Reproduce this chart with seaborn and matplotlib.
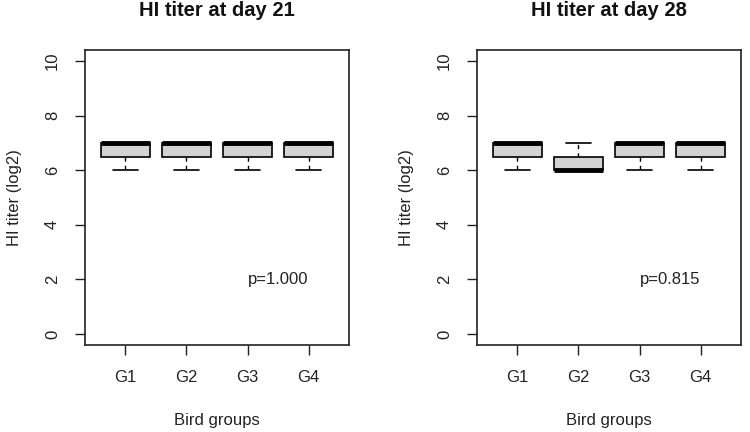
import matplotlib
matplotlib.use("Agg")
import matplotlib.pyplot as plt
import seaborn as sns
import pandas as pd

# ---- data (log2 HI titers per bird group) ----
groups = ["G1", "G2", "G3", "G4"]
day21_G1 = [6, 6, 7, 7, 7, 7, 7]
day21_G2 = [6, 6, 7, 7, 7, 7, 7]
day21_G3 = [6, 6, 7, 7, 7, 7, 7]
day21_G4 = [6, 6, 7, 7, 7, 7, 7]
day28_G1 = [6, 6, 7, 7, 7, 7, 7]
day28_G2 = [6, 6, 6, 6, 6, 7, 7]
day28_G3 = [6, 6, 7, 7, 7, 7, 7]
day28_G4 = [6, 6, 7, 7, 7, 7, 7]
titles = ["HI titer at day 21", "HI titer at day 28"]
p_labels = ["p=1.000", "p=0.815"]
y_ticks = [0, 2, 4, 6, 8, 10]


def make_df(lists):
    rows = []
    for g, vals in zip(groups, lists):
        for v in vals:
            rows.append({"group": g, "titer": v})
    return pd.DataFrame(rows)


df21 = make_df([day21_G1, day21_G2, day21_G3, day21_G4])
df28 = make_df([day28_G1, day28_G2, day28_G3, day28_G4])

sns.set_style("white")
plt.rcParams["font.family"] = ["Liberation Sans", "DejaVu Sans"]

fig = plt.figure(figsize=(7.5, 4.32), dpi=100)
W, H = 750.0, 432.0
ax_w, ax_h = 264 / W, 295 / H
bottom = 1 - 345 / H
ax1 = fig.add_axes([85 / W, bottom, ax_w, ax_h])
ax2 = fig.add_axes([477 / W, bottom, ax_w, ax_h])

for ax, df, title, ptxt in zip([ax1, ax2], [df21, df28], titles, p_labels):
    sns.boxplot(
        data=df, x="group", y="titer", order=groups, ax=ax,
        color="#d3d3d3", saturation=1, linecolor="black", linewidth=1.2,
        width=0.8, whis=1.5, showfliers=True,
        medianprops=dict(linewidth=3.5, color="black", solid_capstyle="butt"),
        whiskerprops=dict(linestyle=(0, (3, 3)), linewidth=1.0),
        capprops=dict(linewidth=1.2),
    )
    ax.set_xlim(-0.66, 3.66)
    ax.set_ylim(-0.4, 10.4)
    ax.set_yticks(y_ticks)
    ax.set_yticklabels([str(t) for t in y_ticks])
    for s in ax.spines.values():
        s.set_visible(True)
        s.set_color("#222222")
        s.set_linewidth(1.2)
    ax.tick_params(axis="both", which="major", direction="out", length=7,
                   width=1.0, color="#222222", labelsize=12, pad=11,
                   left=True, bottom=True, top=False, right=False,
                   labelcolor="#222222")
    for t in ax.get_yticklabels():
        t.set_rotation(90)
        t.set_va("center")
    ax.set_xlabel("Bird groups", fontsize=12, color="#222222")
    ax.set_ylabel("HI titer (log2)", fontsize=12, color="#222222")
    ax.xaxis.label.set_va("center")
    ax.yaxis.label.set_va("center")
    ax.xaxis.set_label_coords(0.5, (345 - 420) / 295)
    ax.yaxis.set_label_coords((15 - 85) / 264, 0.5)
    ax.text(0.5, 1 + (50 - 11) / 295, title, transform=ax.transAxes,
            ha="center", va="center", fontsize=14.5, fontweight="bold",
            color="#111111")
    ax.text(2.5, 2, ptxt, ha="center", va="center", fontsize=12,
            color="#222222")

fig.savefig("out.png", dpi=100)
